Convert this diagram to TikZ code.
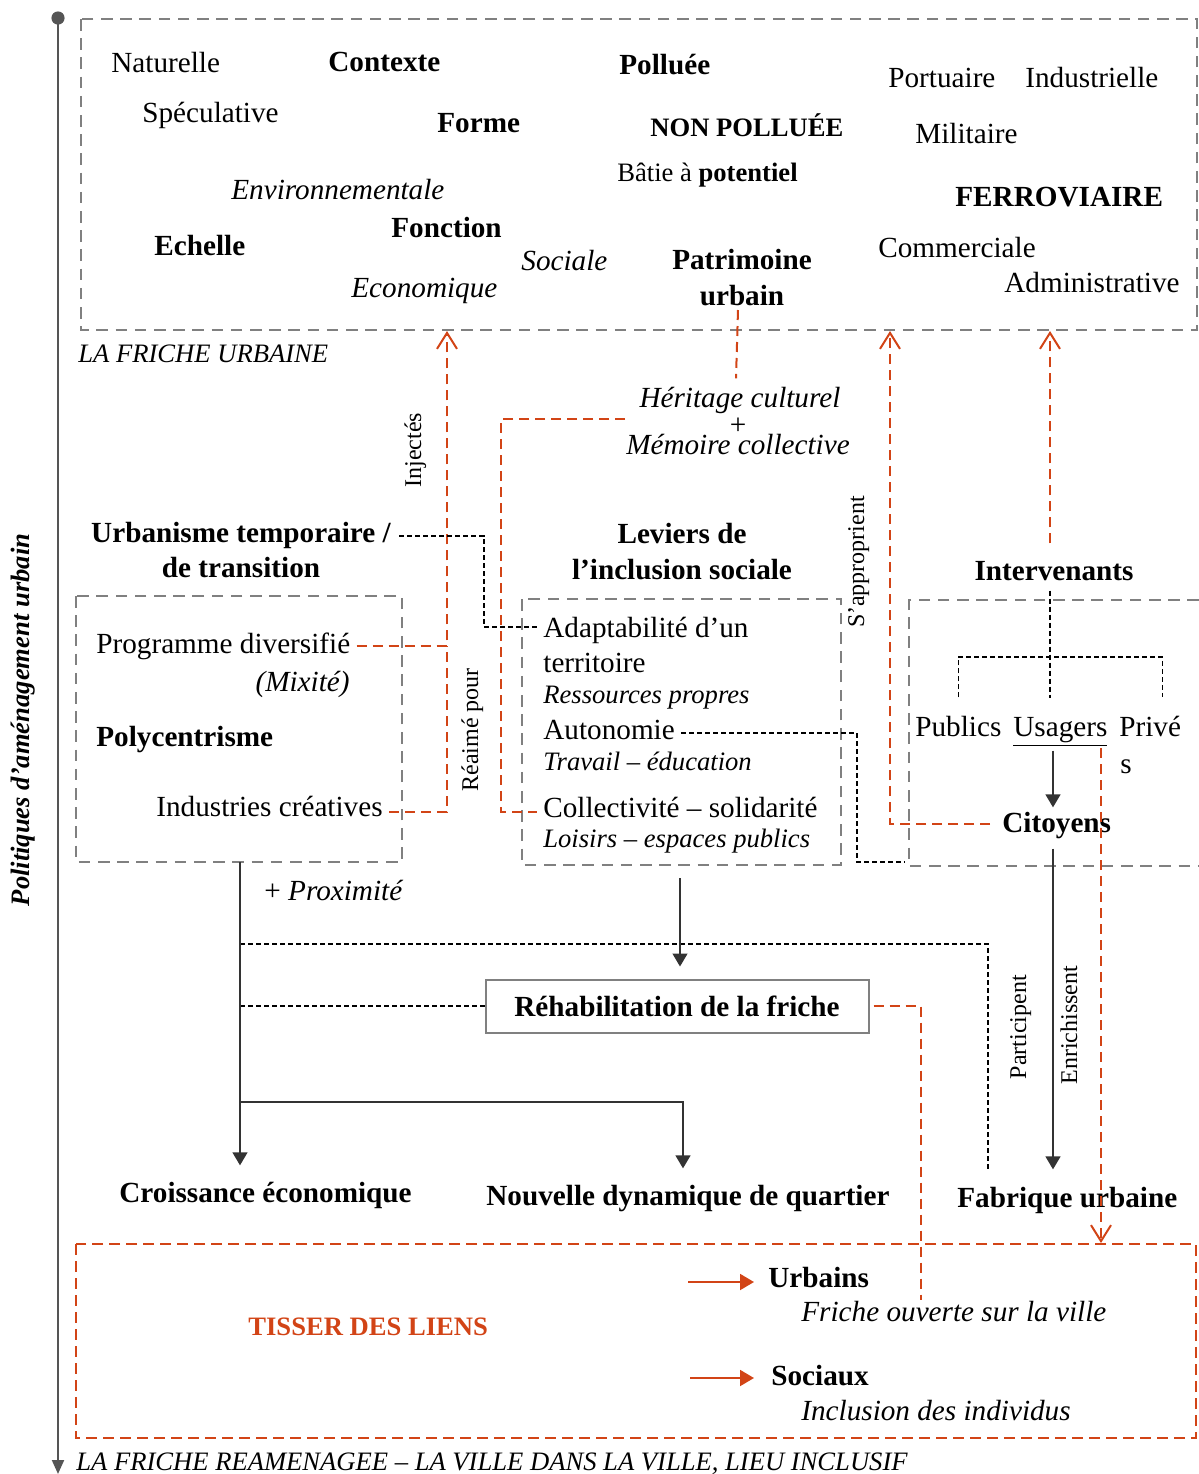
\documentclass[tikz,border=0pt]{standalone}
\usepackage{fontspec}
\setmainfont{Liberation Serif}
\usetikzlibrary{arrows.meta}

\definecolor{rouge}{RGB}{210,68,22}
\definecolor{grisboite}{RGB}{128,128,128}
\definecolor{grisaxe}{RGB}{85,85,85}

\newcommand{\tailleTexte}{\fontsize{14.6}{18}\selectfont}
\newcommand{\tailleReduite}{\fontsize{13.3}{16}\selectfont}
\newcommand{\taillePetit}{\fontsize{12}{14}\selectfont}
\newcommand{\tailleTitre}{\fontsize{13.3}{16}\selectfont}

\tikzset{
  txt/.style={inner sep=0pt, font=\tailleTexte},
  gras/.style={inner sep=0pt, font=\tailleTexte\bfseries},
  ital/.style={inner sep=0pt, font=\tailleTexte\itshape},
  reduit/.style={inner sep=0pt, font=\tailleReduite\itshape},
  petit/.style={inner sep=0pt, font=\taillePetit, rotate=90, anchor=base},
  titre/.style={inner sep=0pt, font=\tailleTitre\itshape, anchor=base west},
  boite/.style={draw=grisboite, line width=1.4pt, dash pattern=on 5.8pt off 3.8pt},
  cadrerouge/.style={draw=rouge, line width=1.4pt, dash pattern=on 5.5pt off 3pt},
  lienrouge/.style={draw=rouge, line width=1pt, dash pattern=on 5pt off 3pt},
  pointille/.style={draw=black, line width=0.6pt, dash pattern=on 2.5pt off 1.5pt},
  fleche/.style={draw=black!80, line width=0.7pt, -{Triangle[length=6.5pt,width=7.5pt]}},
  ouverte/.style={-{Straight Barb[length=8pt,width=10pt]}},
  flecherouge/.style={draw=rouge, line width=1pt, -{Triangle[length=7pt,width=8pt]}},
}

\begin{document}
\begin{tikzpicture}[x=0.5pt, y=-0.5pt]
\useasboundingbox (0,0) rectangle (1199,1474);

% axe des politiques
\coordinate (axehaut) at (58,18);
\coordinate (axebas) at (58,1474);
\draw[grisaxe, line width=1pt, -{Triangle[length=7pt,width=6pt]}] (axehaut) -- (axebas);
\fill[grisaxe] (axehaut) circle[radius=3.3pt];
\node[inner sep=0pt, font=\fontsize{13.3}{16}\selectfont\bfseries\itshape, rotate=90, anchor=base] (politiques) at (30,720) {Politiques d’aménagement urbain};

% la friche urbaine
\draw[boite] (81,19) rectangle (1197,330);
\coordinate (frichebas) at (0,331);
\node[titre] (friche) at (78,362) {LA FRICHE URBAINE};
\node[txt, anchor=base west] (naturelle) at (111,72) {Naturelle};
\node[gras, anchor=base west] (contexte) at (328,71) {Contexte};
\node[txt, anchor=base west] (speculative) at (142,122) {Spéculative};
\node[gras, anchor=base west] (forme) at (437,132) {Forme};
\node[gras, anchor=base west] (polluee) at (619,74) {Polluée};
\node[txt, anchor=base west] (portuaire) at (888,87) {Portuaire};
\node[txt, anchor=base west] (industrielle) at (1025,87) {Industrielle};
\node[inner sep=0pt, font=\tailleReduite\bfseries, anchor=base west] (nonpolluee) at (650,136) {NON POLLUÉE};
\node[inner sep=0pt, font=\tailleReduite, anchor=base west] (batie) at (617,181) {Bâtie à \textbf{potentiel}};
\node[txt, anchor=base west] (militaire) at (915,143) {Militaire};
\node[gras, anchor=base west] (ferroviaire) at (955,206) {FERROVIAIRE};
\node[ital, anchor=base west] (environ) at (231,199) {Environnementale};
\node[gras, anchor=base west] (fonction) at (391,237) {Fonction};
\node[gras, anchor=base west] (echelle) at (154,255) {Echelle};
\node[ital, anchor=base west] (sociale) at (521,270) {Sociale};
\node[ital, anchor=base west] (economique) at (351,297) {Economique};
\node[gras, anchor=base] (patrimoine) at (742,269) {Patrimoine};
\node[gras, anchor=base] (urbain) at (742,305) {urbain};
\node[txt, anchor=base west] (commerciale) at (878,257) {Commerciale};
\node[txt, anchor=base west] (administrative) at (1004,292) {Administrative};

% heritage
\node[ital, anchor=base] (heritage) at (740,407) {Héritage culturel};
\node[txt] (plus) at (738,426) {+};
\node[ital, anchor=base] (memoire) at (738,454) {Mémoire collective};

% urbanisme temporaire
\node[gras, anchor=base] (urbtemp) at (241,542) {Urbanisme temporaire /};
\node[gras, anchor=base] (urbtemp2) at (241,577) {de transition};
\draw[boite] (76,596) rectangle (402,862);
\node[txt, anchor=base west] (programme) at (96,653) {Programme diversifié};
\node[ital, anchor=base east] (mixite) at (350,691) {(Mixité)};
\node[gras, anchor=base west] (polycentrisme) at (96,746) {Polycentrisme};
\node[txt, anchor=base west] (industries) at (156,816) {Industries créatives};

% leviers de l'inclusion sociale
\node[gras, anchor=base] (leviers) at (682,543) {Leviers de};
\node[gras, anchor=base] (leviers2) at (682,579) {l’inclusion sociale};
\draw[boite] (522,599) rectangle (841,865);
\node[txt, anchor=base west] (adapt) at (543,637) {Adaptabilité d’un};
\node[txt, anchor=base west] (territoire) at (543,672) {territoire};
\node[reduit, anchor=base west] (ressources) at (543,703) {Ressources propres};
\node[txt, anchor=base west] (autonomie) at (543,739) {Autonomie};
\node[reduit, anchor=base west] (travail) at (543,770) {Travail – éducation};
\node[txt, anchor=base west] (collect) at (543,817) {Collectivité – solidarité};
\node[reduit, anchor=base west] (loisirs) at (543,847) {Loisirs – espaces publics};

% intervenants
\node[gras, anchor=base] (intervenants) at (1054,580) {Intervenants};
\draw[boite] (1199,600) -- (909,600) -- (909,866) -- (1199,866);
\node[txt, anchor=base west] (publics) at (915,736) {Publics};
\node[txt, anchor=base west] (usagers) at (1013,736) {\underline{Usagers}};
\node[txt, anchor=base west] (prive) at (1119,736) {Privé};
\node[txt, anchor=base west] (prives) at (1120,773) {s};
\node[gras, anchor=base west] (citoyens) at (1002,832) {Citoyens};

% resultats
\node[txt, anchor=base west] (proximite) at (264,900) {+ \textit{Proximité}};
\node[draw=grisboite, line width=1pt, minimum width=191.5pt, minimum height=26.5pt, inner sep=0pt, font=\tailleTexte\bfseries] (rehab) at (677,1006) {Réhabilitation de la friche};
\node[gras, anchor=base west] (croissance) at (119,1202) {Croissance économique};
\node[gras, anchor=base west] (nouvelle) at (486,1205) {Nouvelle dynamique de quartier};
\node[gras, anchor=base west] (fabrique) at (957,1207) {Fabrique urbaine};

% etiquettes verticales
\node[petit] (injectes) at (421,450) {Injectés};
\node[petit] (reaime) at (478,730) {Réaimé pour};
\node[petit] (approprient) at (864,562) {S’approprient};
\node[petit] (participent) at (1026,1027) {Participent};
\node[petit] (enrichissent) at (1077,1025) {Enrichissent};

% tisser des liens
\draw[cadrerouge] (76,1244) rectangle (1196,1438);
\coordinate (lienshaut) at (0,1243);
\node[inner sep=0pt, font=\tailleTitre\bfseries, text=rouge, anchor=base west] (tisser) at (248,1335) {TISSER DES LIENS};
\node[gras, anchor=base west] (urbains) at (768,1287) {Urbains};
\node[ital, anchor=base west] (ouverte) at (801,1321) {Friche ouverte sur la ville};
\node[gras, anchor=base west] (sociaux) at (771,1385) {Sociaux};
\node[ital, anchor=base west] (inclusion) at (801,1420) {Inclusion des individus};
\node[titre] (reamenagee) at (76,1470) {LA FRICHE REAMENAGEE – LA VILLE DANS LA VILLE, LIEU INCLUSIF};

% points d'accroche
\coordinate (colinj) at (447,0);
\coordinate (colrea) at (501,0);
\coordinate (colapp) at (890,0);
\coordinate (colreh) at (921,0);
\coordinate (urbcoude) at (484,0);
\coordinate (colcit) at (1053,0);
\coordinate (colgauche) at (240,862);
\coordinate (participe) at (988,944);
\coordinate (coude) at (683,1102);
\coordinate (leviersbas) at (680,878);
\coordinate (autocoude) at (857,862);
\coordinate (autofin) at (905,862);
\coordinate (arbre) at (1050,657);
\coordinate (heritagegauche) at (625,419);
\coordinate (enrichhaut) at (1101,748);
\coordinate (rehabfin) at (921,1300);
\coordinate (p-prog) at ([xshift=3pt]programme.east);
\coordinate (p-indus) at ([xshift=3pt,yshift=2pt]industries.base east);
\coordinate (p-collect) at ([xshift=-3pt,yshift=2.5pt]collect.base west);
\coordinate (p-adapt) at ([xshift=-2pt,yshift=5pt]adapt.base west);
\coordinate (p-urbtemp) at ([xshift=4pt,yshift=3pt]urbtemp.base east);
\coordinate (p-auto) at ([xshift=3pt,yshift=3pt]autonomie.base east);
\coordinate (p-cit) at ([xshift=-6pt,yshift=4pt]citoyens.base west);
\coordinate (colint) at ([xshift=-2pt,yshift=8.5pt]intervenants.north);
\coordinate (p-interbas) at ([yshift=-5pt]intervenants.south);
\coordinate (p-usagers) at ([yshift=9pt]usagers.north);
\coordinate (p-publics) at ([yshift=9pt]publics.north);
\coordinate (p-prive) at ([xshift=6pt,yshift=9pt]prive.north);
\coordinate (p-usbas) at ([yshift=-2pt]usagers.south);
\coordinate (p-cithaut) at ([yshift=2pt]citoyens.north);
\coordinate (p-citbas) at ([yshift=-5pt]citoyens.south);
\coordinate (p-fabrique) at ([yshift=8.5pt]fabrique.north);
\coordinate (p-croissance) at ([yshift=8pt]croissance.north);
\coordinate (p-nouvelle) at ([yshift=8pt]nouvelle.north);
\coordinate (p-rehab) at ([yshift=6pt]rehab.north);
\coordinate (p-urbains) at ([xshift=-7pt,yshift=2.5pt]urbains.base west);
\coordinate (p-sociaux) at ([xshift=-8.5pt,yshift=3.5pt]sociaux.base west);

% liens rouges
\draw[lienrouge] ([xshift=-2pt,yshift=-2.5pt]urbain.base) -- ([xshift=-2pt,yshift=4pt]heritage.north);
\draw[lienrouge, ouverte] (p-prog) -| (colinj |- frichebas);
\draw[lienrouge] (p-indus) -| (p-prog -| colinj);
\draw[lienrouge] (heritagegauche) -| (p-collect -| colrea) -- (p-collect);
\draw[lienrouge, ouverte] (p-cit) -| (colapp |- frichebas);
\draw[lienrouge, ouverte] (colint) -- (colint |- frichebas);
\draw[lienrouge, ouverte] (enrichhaut) -- (enrichhaut |- lienshaut);
\draw[lienrouge] ([xshift=2pt]rehab.east) -| (rehabfin);

% liens pointilles
\draw[pointille] (p-urbtemp) -| (p-adapt -| urbcoude) -- (p-adapt);
\draw[pointille] (p-auto) -| (autocoude) -- (autofin);
\draw[pointille] (p-interbas -| colint) -- (p-usagers -| colint);
\draw[pointille] (p-publics) |- (arbre) -| (p-prive);
\draw[pointille] (colgauche |- participe) -| (p-fabrique -| participe);
\draw[pointille] (colgauche |- rehab.west) -- (rehab.west);

% fleches pleines
\draw[fleche] (p-usbas -| colcit) -- (p-cithaut -| colcit);
\draw[fleche] (p-citbas -| colcit) -- (p-fabrique -| colcit);
\draw[fleche] (colgauche) -- (p-croissance -| colgauche);
\draw[fleche] (colgauche |- coude) -- (coude) -- (p-nouvelle -| coude);
\draw[fleche] (leviersbas) -- (p-rehab -| leviersbas);
\draw[flecherouge] ([xshift=-33pt]p-urbains) -- (p-urbains);
\draw[flecherouge] ([xshift=-32pt]p-sociaux) -- (p-sociaux);
\end{tikzpicture}
\end{document}
